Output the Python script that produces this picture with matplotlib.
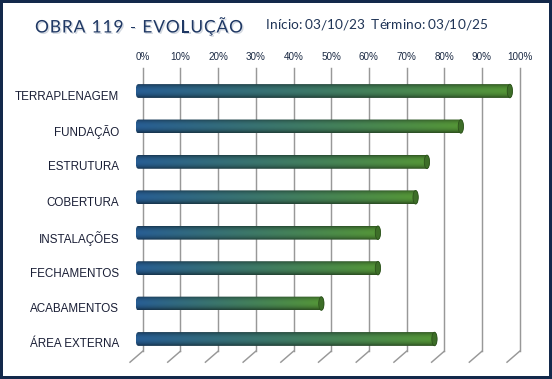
import numpy as np
import matplotlib
matplotlib.use("Agg")
import matplotlib.pyplot as plt
import matplotlib.patheffects as pe
from matplotlib.patches import FancyBboxPatch, Ellipse
from matplotlib.lines import Line2D
from matplotlib.transforms import ScaledTranslation, IdentityTransform
from matplotlib.textpath import TextToPath
from matplotlib.font_manager import FontProperties

#%% Data
etapas    = ['TERRAPLENAGEM', 'FUNDAÇÃO', 'ESTRUTURA', 'COBERTURA',
             'INSTALAÇÕES', 'FECHAMENTOS', 'ACABAMENTOS', 'ÁREA EXTERNA']
progresso = [100, 87, 78, 75, 65, 65, 50, 80]                                 # % concluido
pct_ticks = list(range(0, 101, 10))
titulo    = 'OBRA 119 - EVOLUÇÃO'
datas     = 'Início: 03/10/23  Término: 03/10/25'

#%% Style
W, H, DPI  = 552, 379, 100
navy       = '#1f3864'
c_blue     = np.array([38, 90, 142]) / 255
c_green    = np.array([82, 145, 52]) / 255
c_cap      = '#3d6e28'
grid_col   = '#989898'
back_dx, back_dy   = 7.2, 5.5                                                  # 3D depth offsets (px)
front_dx, front_dy = -5.5, -5.5
bar_h      = 0.39

fig = plt.figure(figsize=(W / DPI, H / DPI), dpi=DPI)
fig.patch.set_facecolor('white')
fig.patch.set_edgecolor('#13294b')
fig.patch.set_linewidth(3.2)

ax = fig.add_axes([135.5 / W, (H - 356.7) / H, 377 / W, 283.4 / H])
ax.set_xlim(0, 100)
ax.set_ylim(len(etapas) - 0.5, -0.5)
ax.axis('off')

px = fig.dpi_scale_trans
def shift(dx, dy):
    return ScaledTranslation(dx / DPI, dy / DPI, px)

#%% Back wall grid + floor diagonals
for p in pct_ticks:
    ax.plot([p, p], [len(etapas) - 0.5, -0.5], color=grid_col, lw=1.05,
            transform=ax.transData + shift(back_dx, back_dy), zorder=1, clip_on=False)
    x0, y0 = ax.transData.transform((p, len(etapas) - 0.5))
    fig.add_artist(Line2D([x0 + back_dx, x0 + front_dx], [y0 + back_dy, y0 + front_dy],
                          color=grid_col, lw=1.05, transform=IdentityTransform()))
    ax.text(p, 1, f'{p}%', transform=ax.get_xaxis_transform() + shift(back_dx, 16.3),
            ha='center', va='center', fontsize=7.1, family='Liberation Sans', color='#1b2a44')

#%% Cylinder bars
ny, nx = 40, 200
yy = np.linspace(0, 1, ny)[:, None]
shade = 0.58 + 0.46 * np.sin(np.pi * np.clip(yy * 1.05, 0, 1)) ** 0.7
xx = np.linspace(0, 1, nx)[None, :, None]

for i, v in enumerate(progresso):
    rgb = (c_blue * (1 - xx) + c_green * xx) * shade[:, :, None]
    rgb = np.clip(rgb, 0, 1)
    im = ax.imshow(rgb, extent=(0, v, i + bar_h / 2, i - bar_h / 2), origin='upper',
                   aspect='auto', interpolation='bilinear', zorder=3)
    body = FancyBboxPatch((0, i - bar_h / 2), v, bar_h,
                          boxstyle='round,pad=0,rounding_size=0.8',
                          mutation_aspect=bar_h / 2 / 0.8, transform=ax.transData)
    im.set_clip_path(body)
    ax.add_patch(Ellipse((v - 0.7, i), 1.4, bar_h * 0.98, facecolor=c_cap,
                         edgecolor='#2c521c', lw=0.6, zorder=4))

ax.set_xlim(0, 100)
ax.set_ylim(len(etapas) - 0.5, -0.5)

#%% Category labels (front plane)
for i, nome in enumerate(etapas):
    ax.text(0, i, nome, transform=ax.transData + shift(-16.5, front_dy),
            ha='right', va='center', fontsize=8.4, family='Liberation Sans', color='#1a1f36')

#%% Header texts with letter spacing
def spaced_text(s, x_left, y_mid, size, target_w, **kw):
    prop = FontProperties(family='Lato', size=size)
    t2p = TextToPath()
    widths = [t2p.get_text_width_height_descent(ch, prop, ismath=False)[0] * DPI / 72 for ch in s]
    gap = (target_w - sum(widths)) / (len(s) - 1)
    x = x_left
    for ch, w in zip(s, widths):
        fig.text(x / W, 1 - y_mid / H, ch, fontproperties=prop, ha='left', va='center', **kw)
        x += w + gap

spaced_text(titulo, 35, 27.5, 12.5, 208, color=navy,
            path_effects=[pe.withSimplePatchShadow(offset=(1, -1), shadow_rgbFace='#8090a8', alpha=0.35)])
spaced_text(datas, 266, 25, 9.8, 221, color='#1f3456')

fig.savefig('out.png', dpi=DPI, facecolor=fig.get_facecolor(), edgecolor=fig.get_edgecolor())
